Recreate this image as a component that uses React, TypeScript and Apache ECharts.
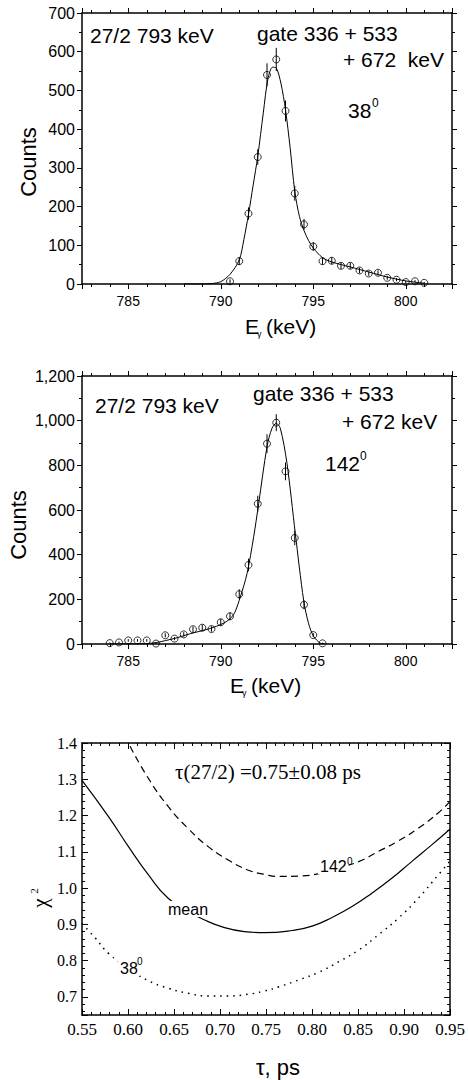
import React, { useEffect, useRef } from 'react';
import * as echarts from 'echarts';

// ---- Panel 1 (38 deg) ----
const keV38 = [790.5, 791, 791.5, 792, 792.5, 793, 793.5, 794, 794.5, 795, 795.5, 796, 796.5, 797, 797.5, 798, 798.5, 799, 799.5, 800, 800.5, 801];
const counts38 = [7, 59, 182, 328, 540, 580, 447, 234, 154, 97, 59, 60, 47, 47, 35, 27, 29, 16, 11, 5, 7, 3];
const err38 = [5, 10, 16, 20, 30, 30, 27, 19, 14, 11, 9, 9, 8, 8, 7, 6, 6, 5, 4, 3, 3, 2];
const fitKeV38 = [788, 789, 789.5, 790, 790.5, 791, 791.25, 791.5, 791.75, 792, 792.3, 792.55, 792.8, 793, 793.25, 793.5, 793.75, 794, 794.25, 794.5, 794.75, 795, 795.5, 796, 797, 798, 799, 800, 801];
const fitCounts38 = [0, 0, 1, 6, 25, 62, 115, 180, 255, 330, 442, 530, 560, 558, 519, 450, 352, 240, 175, 138, 112, 93, 68, 57, 44, 31, 18, 8, 2];

// ---- Panel 2 (142 deg) ----
const keV142 = [784, 784.5, 785, 785.5, 786, 786.5, 787, 787.5, 788, 788.5, 789, 789.5, 790, 790.5, 791, 791.5, 792, 792.5, 793, 793.5, 794, 794.5, 795, 795.5];
const counts142 = [4, 7, 16, 16, 16, 2, 39, 24, 43, 66, 73, 67, 97, 124, 223, 354, 628, 897, 991, 773, 475, 176, 40, 3];
const err142 = [3, 4, 6, 6, 6, 2, 9, 7, 10, 12, 13, 12, 15, 17, 22, 28, 36, 42, 38, 40, 33, 20, 9, 3];
const fitKeV142 = [784, 786, 786.55, 787, 787.64, 788.35, 789.4, 790.15, 790.5, 790.75, 791.06, 791.42, 791.78, 792.05, 792.5, 792.77, 793, 793.22, 793.58, 794.03, 794.48, 794.75, 795.02, 795.38, 795.6];
const fitCounts142 = [0, 2, 7, 15, 28, 46, 69, 93, 113, 140, 211, 315, 480, 629, 883, 966, 988, 966, 809, 495, 196, 91, 34, 4, 0];

// ---- Panel 3 (chi^2 vs tau) ----
const tauMean = [0.55, 0.5788, 0.6003, 0.622, 0.6436, 0.665, 0.6832, 0.7048, 0.7264, 0.748, 0.7786, 0.8, 0.8218, 0.8434, 0.865, 0.8866, 0.9082, 0.93, 0.95];
const chiMean = [1.297, 1.197, 1.115, 1.037, 0.972, 0.937, 0.912, 0.891, 0.88, 0.877, 0.883, 0.895, 0.919, 0.949, 0.986, 1.027, 1.073, 1.119, 1.163];
const tau142 = [0.6022, 0.622, 0.6436, 0.665, 0.6868, 0.7084, 0.73, 0.748, 0.7642, 0.7858, 0.8074, 0.829, 0.8506, 0.872, 0.8938, 0.9154, 0.937, 0.95];
const chi142 = [1.391, 1.303, 1.225, 1.165, 1.115, 1.078, 1.05, 1.038, 1.032, 1.033, 1.04, 1.055, 1.073, 1.101, 1.13, 1.165, 1.207, 1.239];
const tau38 = [0.55, 0.5644, 0.5788, 0.6, 0.6202, 0.6436, 0.665, 0.6868, 0.7084, 0.73, 0.748, 0.7642, 0.7858, 0.8074, 0.829, 0.8506, 0.872, 0.8938, 0.9154, 0.937, 0.95];
const chi38 = [0.902, 0.862, 0.82, 0.78, 0.747, 0.724, 0.71, 0.7025, 0.7025, 0.707, 0.716, 0.728, 0.747, 0.768, 0.797, 0.829, 0.871, 0.917, 0.972, 1.036, 1.075];

const SANS = "'Liberation Sans', Arial, sans-serif";
const SERIF = "'Liberation Serif', 'Times New Roman', serif";

const zip = (a: number[], b: number[]) => a.map((x, i) => [x, b[i]]);

function spectrumX(gridIndex: number, top: boolean) {
  return {
    type: 'value',
    gridIndex,
    position: top ? 'top' : 'bottom',
    min: 782.5,
    max: 802.5,
    splitNumber: 4,
    axisLine: { show: true, onZero: false, lineStyle: { color: '#000', width: 1.5 } },
    axisTick: { show: true, inside: false, length: 5, lineStyle: { color: '#000', width: 1 } },
    minorTick: { show: true, splitNumber: 5, length: 3, lineStyle: { color: '#000', width: 1 } },
    splitLine: { show: false },
    axisLabel: {
      show: !top,
      showMinLabel: false,
      showMaxLabel: false,
      color: '#000',
      fontSize: 14,
      fontFamily: SANS,
      margin: 10,
      formatter: (v: number) => (Math.abs(v % 5) < 1e-9 ? String(v) : ''),
    },
  };
}

function spectrumY(gridIndex: number, right: boolean, max: number, interval: number) {
  return {
    type: 'value',
    gridIndex,
    position: right ? 'right' : 'left',
    min: 0,
    max,
    interval,
    axisLine: { show: true, onZero: false, lineStyle: { color: '#000', width: 1.5 } },
    axisTick: { show: true, inside: false, length: 5, lineStyle: { color: '#000', width: 1 } },
    minorTick: { show: true, splitNumber: 2, length: 3, lineStyle: { color: '#000', width: 1 } },
    splitLine: { show: false },
    axisLabel: {
      show: !right,
      color: '#000',
      fontSize: 16,
      fontFamily: SANS,
      margin: 7,
      formatter: (v: number) => v.toLocaleString('en-US'),
    },
  };
}

function tauX(gridIndex: number, top: boolean) {
  return {
    type: 'value',
    gridIndex,
    position: top ? 'top' : 'bottom',
    min: 0.55,
    max: 0.95,
    interval: 0.05,
    axisLine: { show: true, onZero: false, lineStyle: { color: '#000', width: 1.5 } },
    axisTick: { show: true, inside: true, length: 6, lineStyle: { color: '#000', width: 1 } },
    minorTick: { show: true, splitNumber: 5, length: 3, lineStyle: { color: '#000', width: 1 } },
    splitLine: { show: false },
    axisLabel: {
      show: !top,
      color: '#000',
      fontSize: 17,
      fontFamily: SERIF,
      margin: 6,
      formatter: (v: number) => v.toFixed(2),
    },
  };
}

function chiY(gridIndex: number, right: boolean) {
  return {
    type: 'value',
    gridIndex,
    position: right ? 'right' : 'left',
    min: 0.65,
    max: 1.4,
    splitNumber: 7,
    axisLine: { show: true, onZero: false, lineStyle: { color: '#000', width: 1.5 } },
    axisTick: { show: true, inside: true, length: 6, lineStyle: { color: '#000', width: 1 } },
    minorTick: { show: true, splitNumber: 5, length: 3, lineStyle: { color: '#000', width: 1 } },
    splitLine: { show: false },
    axisLabel: {
      show: !right,
      showMinLabel: false,
      color: '#000',
      fontSize: 16,
      fontFamily: SERIF,
      margin: 5,
      formatter: (v: number) => (Math.abs(v * 10 - Math.round(v * 10)) < 1e-6 ? v.toFixed(1) : ''),
    },
  };
}

const errRender = (params: any, api: any) => {
  const x = api.value(0);
  const y = api.value(1);
  const e = api.value(2);
  const p1 = api.coord([x, Math.max(0, y - e)]);
  const p2 = api.coord([x, y + e]);
  return {
    type: 'line',
    shape: { x1: p1[0], y1: p1[1], x2: p2[0], y2: p2[1] },
    style: { stroke: '#000', lineWidth: 1 },
  };
};

function T(text: string, x: number, y: number, size: number, extra: any = {}) {
  const { family, rotation, align, bg, ...rest } = extra;
  return {
    type: 'text',
    x,
    y,
    rotation: rotation || 0,
    z: 100,
    style: {
      text,
      fill: '#000',
      fontSize: size,
      fontFamily: family || SANS,
      align: align || 'left',
      verticalAlign: 'middle',
      backgroundColor: bg,
      padding: bg ? [0, 2] : undefined,
      ...rest,
    },
  };
}

export default function App() {
  const ref = useRef<HTMLDivElement>(null);
  useEffect(() => {
    if (!ref.current) return;
    const chart = echarts.init(ref.current, undefined, { renderer: 'svg' });
    const option: any = {
      animation: false,
      backgroundColor: '#fff',
      grid: [
        { left: 82, top: 13, width: 370, height: 271 },
        { left: 82, top: 376, width: 370, height: 268 },
        { left: 82, top: 743, width: 370, height: 272 },
      ],
      xAxis: [spectrumX(0, false), spectrumX(0, true), spectrumX(1, false), spectrumX(1, true), tauX(2, false), tauX(2, true)],
      yAxis: [spectrumY(0, false, 700, 100), spectrumY(0, true, 700, 100), spectrumY(1, false, 1200, 200), spectrumY(1, true, 1200, 200), chiY(2, false), chiY(2, true)],
      series: [
        {
          type: 'line', xAxisIndex: 0, yAxisIndex: 0, data: zip(fitKeV38, fitCounts38),
          smooth: 0.3, showSymbol: false, lineStyle: { color: '#000', width: 1 }, z: 2,
        },
        {
          type: 'scatter', xAxisIndex: 0, yAxisIndex: 0, data: zip(keV38, counts38), symbol: 'circle', symbolSize: 7,
          itemStyle: { color: 'rgba(255,255,255,0)', borderColor: '#000', borderWidth: 1 }, z: 3,
        },
        {
          type: 'custom', xAxisIndex: 0, yAxisIndex: 0, renderItem: errRender,
          data: keV38.map((x, i) => [x, counts38[i], err38[i]]), z: 4,
        },
        {
          type: 'line', xAxisIndex: 2, yAxisIndex: 2, data: zip(fitKeV142, fitCounts142),
          smooth: 0.3, showSymbol: false, lineStyle: { color: '#000', width: 1 }, z: 2,
        },
        {
          type: 'scatter', xAxisIndex: 2, yAxisIndex: 2, data: zip(keV142, counts142), symbol: 'circle', symbolSize: 7,
          itemStyle: { color: 'rgba(255,255,255,0)', borderColor: '#000', borderWidth: 1 }, z: 3,
        },
        {
          type: 'custom', xAxisIndex: 2, yAxisIndex: 2, renderItem: errRender,
          data: keV142.map((x, i) => [x, counts142[i], err142[i]]), z: 4,
        },
        {
          type: 'line', xAxisIndex: 4, yAxisIndex: 4, data: zip(tauMean, chiMean),
          smooth: 0.5, showSymbol: false, lineStyle: { color: '#000', width: 1.2 },
        },
        {
          type: 'line', xAxisIndex: 4, yAxisIndex: 4, data: zip(tau142, chi142),
          smooth: 0.5, showSymbol: false, lineStyle: { color: '#000', width: 1.2, type: [7, 4.5] },
        },
        {
          type: 'line', xAxisIndex: 4, yAxisIndex: 4, data: zip(tau38, chi38),
          smooth: 0.5, showSymbol: false, lineStyle: { color: '#000', width: 1.5, type: [1.5, 5] },
        },
      ],
      graphic: [
        // panel 1
        T('27/2 793 keV', 90, 35.5, 21),
        T('gate 336 + 533', 257, 33, 21),
        T('+ 672  keV', 343, 59, 21),
        T('38', 348, 110, 21),
        T('0', 372, 103, 12),
        T('Counts', 28, 162, 22, { rotation: Math.PI / 2, align: 'center' }),
        T('E', 245, 326, 21),
        T('γ', 257, 334, 9),
        T('(keV)', 266, 326, 21),
        // panel 2
        T('27/2 793 keV', 95, 405, 21),
        T('gate 336 + 533', 253, 393.5, 21),
        T('+ 672 keV', 342, 421, 21),
        T('142', 325, 463, 21),
        T('0', 360, 456, 12),
        T('Counts', 18, 525, 22, { rotation: Math.PI / 2, align: 'center' }),
        T('E', 230, 685, 21),
        T('γ', 242, 693, 9),
        T('(keV)', 251, 685, 21),
        // panel 3
        T('τ(27/2) =0.75±0.08 ps', 175, 772, 21, { family: SERIF }),
        T('142', 318, 866, 16, { bg: '#fff' }),
        T('0', 347, 861, 10),
        T('mean', 166, 909, 16, { bg: '#fff' }),
        T('38', 118, 968, 16, { bg: '#fff' }),
        T('0', 137, 961, 10),
        T('χ', 40, 903, 21, { family: SERIF, rotation: Math.PI / 2, align: 'center' }),
        T('2', 34, 891, 11, { family: SERIF, rotation: Math.PI / 2, align: 'center' }),
        T('τ, ps', 278, 1067, 22, { align: 'center' }),
      ],
    };
    chart.setOption(option);
    return () => chart.dispose();
  }, []);
  return (
    <div
      ref={ref}
      style={{ position: 'fixed', left: 0, top: 0, width: 468, height: 1080, background: '#fff' }}
    />
  );
}
